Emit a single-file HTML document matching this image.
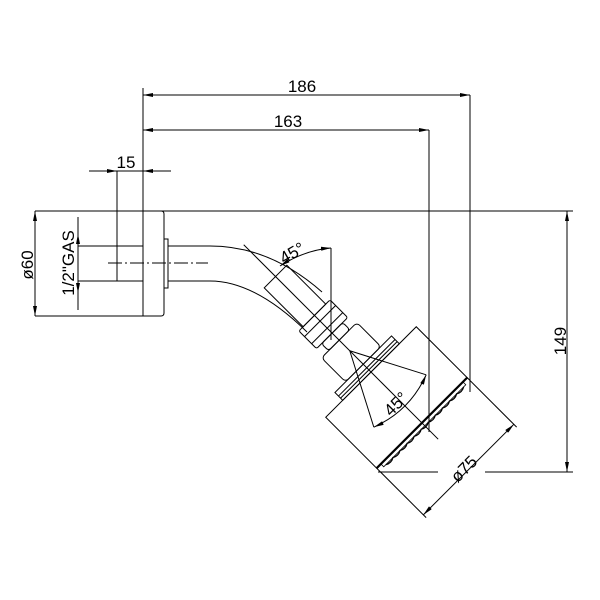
<!DOCTYPE html>
<html><head><style>html,body{margin:0;padding:0;background:#fff}svg{display:block}</style></head>
<body>
<svg width="600" height="600" viewBox="0 0 600 600" xmlns="http://www.w3.org/2000/svg" font-family="Liberation Sans, sans-serif">
<defs>
<marker id="a" viewBox="0 0 10 4" refX="10" refY="2" markerWidth="10" markerHeight="4" orient="auto-start-reverse" markerUnits="userSpaceOnUse"><path d="M0,0L10,2L0,4z" fill="#000"/></marker>
</defs>
<g stroke="#000" stroke-width="1" fill="none">
<!-- top dims -->
<line x1="143" y1="95" x2="470" y2="95" marker-start="url(#a)" marker-end="url(#a)"/>
<line x1="143" y1="130" x2="429" y2="130" marker-start="url(#a)" marker-end="url(#a)"/>
<line x1="143" y1="88" x2="143" y2="316"/>
<line x1="470" y1="95" x2="470" y2="392"/>
<line x1="429" y1="130" x2="429" y2="432"/>
<line x1="89" y1="171" x2="117" y2="171" marker-end="url(#a)"/>
<line x1="171" y1="171" x2="143" y2="171" marker-end="url(#a)"/>
<line x1="117" y1="171" x2="143" y2="171"/>
<line x1="117" y1="171" x2="117" y2="281"/>
<!-- horizontal top line & 149 -->
<line x1="35" y1="211" x2="573" y2="211"/>
<line x1="567" y1="211" x2="567" y2="472" marker-start="url(#a)" marker-end="url(#a)"/>
<line x1="378" y1="472" x2="438" y2="472"/>
<line x1="485" y1="472" x2="573" y2="472"/>
<!-- wall plate -->
<path d="M35,211 H161 Q164,211 164,214 V313 Q164,316 161,316 H35"/>
<line x1="35" y1="211" x2="35" y2="316" marker-start="url(#a)" marker-end="url(#a)"/>
<line x1="78" y1="217" x2="78" y2="310"/>
<line x1="78" y1="246" x2="143" y2="246"/>
<line x1="78" y1="281" x2="143" y2="281"/>
<line x1="78" y1="246" x2="78" y2="234" marker-end="url(#a)"/>
<line x1="78" y1="281" x2="78" y2="293" marker-end="url(#a)"/>
<rect x="117" y="246" width="26" height="35"/>
<rect x="164" y="239" width="4" height="49"/>
<line x1="108" y1="263" x2="208" y2="263" stroke-dasharray="14,3,2,3"/>
<!-- arm -->
<path d="M168,246 H210 Q270,246 322,292"/>
<path d="M168,281 H210 Q255,281 307,332"/>
<!-- 45 top -->
<line x1="331" y1="248" x2="331" y2="340"/>
<path d="M280,266 Q305,250 331,248" marker-start="url(#a)" marker-end="url(#a)"/>
<!-- head group -->
<g transform="translate(371,372) rotate(45)">
<rect x="-135" y="-16" width="55" height="32"/>
<rect x="-80" y="-22" width="25" height="44" rx="2"/>
<line x1="-72" y1="-22" x2="-72" y2="22"/>
<line x1="-62" y1="-22" x2="-62" y2="22"/>
<rect x="-55" y="-15" width="10" height="30" rx="3"/>
<rect x="-45" y="-25" width="34" height="50" rx="4"/>
<rect x="-11" y="-40" width="11" height="80"/>
<line x1="-6" y1="-40" x2="-6" y2="40"/>
<line x1="-3" y1="-40" x2="-3" y2="40"/>
<rect x="0" y="-64" width="72" height="128"/>
<line x1="72" y1="-64" x2="72" y2="64" stroke-width="2.2"/>
<path d="M72,-58 h4 v116 h-4" stroke-width="0.8"/>
<path d="M76,-55 q3,5 0,10 q3,5 0,10 q3,5 0,10 q3,5 0,10 q3,5 0,10 q3,5 0,10 q3,5 0,10 q3,5 0,10 q3,5 0,10 q3,5 0,10 q3,5 0,10" stroke-width="1.3"/>
<line x1="72" y1="-64" x2="142" y2="-64"/>
<line x1="72" y1="64" x2="142" y2="64"/>
<line x1="138" y1="-64" x2="138" y2="64" marker-start="url(#a)" marker-end="url(#a)"/>
<line x1="-180" y1="0" x2="95" y2="0"/>
<line x1="-30" y1="0" x2="41" y2="-37"/>
<line x1="-30" y1="0" x2="41" y2="37"/>
<path d="M41,-37 Q55,0 41,37" marker-start="url(#a)" marker-end="url(#a)"/>
</g>
</g>
<g font-size="17" fill="#000">
<text x="302" y="92" text-anchor="middle">186</text>
<text x="288" y="127" text-anchor="middle">163</text>
<text x="126" y="168" text-anchor="middle">15</text>
<text transform="translate(33,265) rotate(-90)" text-anchor="middle">ø60</text>
<text transform="translate(74,263) rotate(-90)" text-anchor="middle">1/2"GAS</text>
<text transform="translate(566,341) rotate(-90)" text-anchor="middle">149</text>
<text transform="translate(295,258) rotate(-30)" text-anchor="middle">45°</text>
<text transform="translate(400,408) rotate(-45)" text-anchor="middle">45°</text>
<text transform="translate(468,473) rotate(-45)" text-anchor="middle">ø75</text>
</g>
</svg>
</body></html>
